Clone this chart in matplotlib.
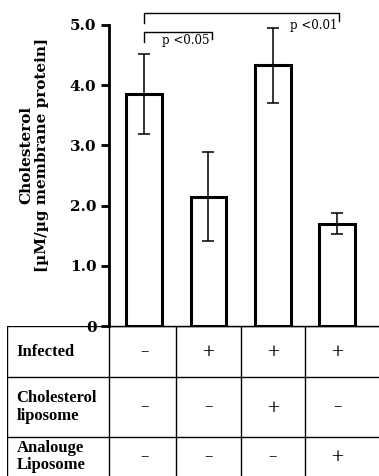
import numpy as np
import matplotlib
matplotlib.use("Agg")
import matplotlib.pyplot as plt

# bar data
groups = [0, 1, 2, 3]
cholesterol = [3.85, 2.15, 4.33, 1.70]
err = [0.66, 0.74, 0.62, 0.18]
yticks = [0, 1.0, 2.0, 3.0, 4.0, 5.0]
ytick_labels = ["0", "1.0", "2.0", "3.0", "4.0", "5.0"]

row_labels = ["Infected", "Cholesterol\nliposome", "Analouge\nLiposome"]
table_signs = [["\u2013", "+", "+", "+"],
               ["\u2013", "\u2013", "+", "\u2013"],
               ["\u2013", "\u2013", "\u2013", "+"]]

W, H = 379, 476
fig = plt.figure(figsize=(W / 100, H / 100), dpi=100)

xlo, xhi = -0.545, 3.65
ax = fig.add_axes([109 / W, 150 / H, 1 - 109 / W, 301 / H])
ax.bar(groups, cholesterol, width=0.55, color="white", edgecolor="black",
       linewidth=2.2, zorder=2)
ax.errorbar(groups, cholesterol, yerr=err, fmt="none", ecolor="black",
            elinewidth=1.1, capsize=4, capthick=1.1, zorder=3)
ax.set_xlim(xlo, xhi)
ax.set_ylim(0, 5.0)
ax.set_yticks(yticks)
ax.set_yticklabels(ytick_labels, fontfamily="DejaVu Serif", fontweight="bold",
                   fontsize=11)
ax.set_xticks([])
ax.tick_params(axis="y", direction="out", length=6, width=2, pad=3)
for s in ["top", "right"]:
    ax.spines[s].set_visible(False)
ax.spines["left"].set_linewidth(2)
ax.spines["bottom"].set_linewidth(1)

# significance brackets
ax.plot([0, 0, 3.03, 3.03], [5.03, 5.2, 5.2, 5.06], color="black", lw=1,
        clip_on=False)
ax.plot([0, 0, 1.06, 1.06], [4.72, 4.88, 4.88, 4.76], color="black", lw=1,
        clip_on=False)
ax.text(3.0, 4.99, "p <0.01", ha="right", va="center", fontsize=8.5,
        fontfamily="DejaVu Serif")
ax.text(1.02, 4.74, "p <0.05", ha="right", va="center", fontsize=8.5,
        fontfamily="DejaVu Serif")

fig.text(34 / W, 1 - 155 / H, "Cholesterol\n[\u00b5M/\u00b5g membrane protein]",
         rotation=90, ha="center", va="center", fontsize=11,
         fontfamily="DejaVu Serif", fontweight="bold", linespacing=1.1)

# condition table under the bars
tab = fig.add_axes([7 / W, 0, 1 - 7 / W, 150 / H])
x0 = xlo - (109 - 7) / 64.3
tab.set_xlim(x0, xhi)
tab.set_ylim(0, 150)
tab.axis("off")
row_edges = [150, 99, 39, 0]
for y in row_edges[:-1]:
    tab.plot([x0, xhi], [y, y], color="black", lw=1)
for x in [x0, xlo, 0.5, 1.5, 2.5]:
    tab.plot([x, x], [0, 150], color="black", lw=1)
for i, lab in enumerate(row_labels):
    yc = (row_edges[i] + row_edges[i + 1]) / 2
    tab.text(x0 + 0.15, yc, lab, ha="left", va="center", fontsize=12,
             fontfamily="Liberation Serif", fontweight="bold", linespacing=1.15)
    for j, sgn in enumerate(table_signs[i]):
        tab.text(groups[j], yc, sgn, ha="center", va="center", fontsize=12,
                 fontfamily="DejaVu Serif")

fig.savefig("out.png", dpi=100)
